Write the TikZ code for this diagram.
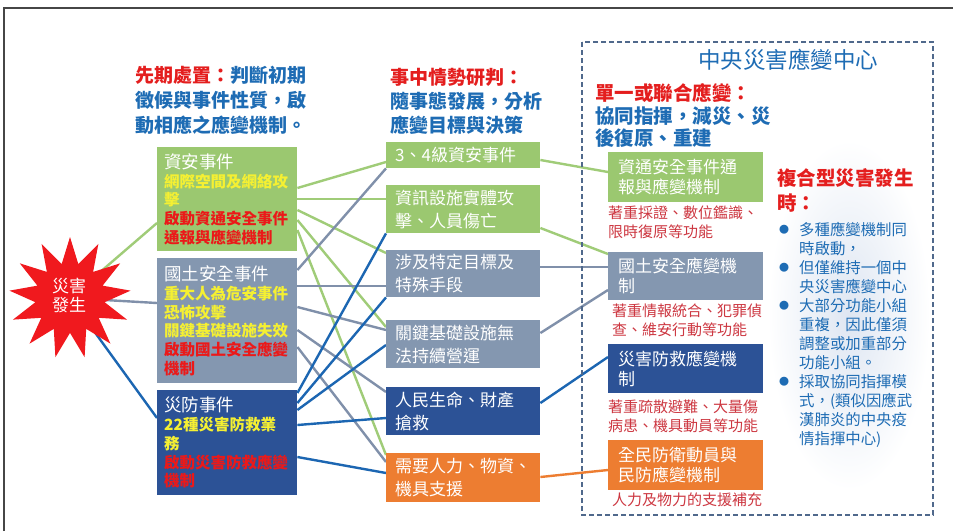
\documentclass[tikz,border=0pt]{standalone}
\usepackage{fontspec}
\setmainfont{Noto Sans CJK TC}
\usetikzlibrary{shapes.geometric,backgrounds}
\definecolor{gboxc}{RGB}{155,200,112}
\definecolor{grayc}{RGB}{132,151,176}
\definecolor{dbluec}{RGB}{44,82,150}
\definecolor{orangec}{RGB}{237,125,49}
\definecolor{glinec}{RGB}{160,204,120}
\definecolor{alinec}{RGB}{128,144,170}
\definecolor{blinec}{RGB}{28,102,178}
\definecolor{hblue}{RGB}{30,108,180}
\definecolor{hred}{RGB}{228,30,30}
\definecolor{yel}{RGB}{245,240,50}
\definecolor{lred}{RGB}{235,25,25}
\definecolor{notec}{RGB}{205,55,65}
\definecolor{starred}{RGB}{240,25,30}
\definecolor{dashc}{RGB}{80,105,140}
\definecolor{framec}{RGB}{70,70,70}
\definecolor{glowc}{RGB}{222,230,242}
\newcommand\ytext[1]{\textcolor{yel}{\bfseries #1}}
\newcommand\rtext[1]{\textcolor{lred}{\bfseries #1}}
\newcommand\ttext[1]{{\fontsize{17.5}{18.7}\selectfont #1}}
\begin{document}
\begin{tikzpicture}[x=1pt,y=-1pt,
  lbox/.style={anchor=north west, text width=126pt, inner xsep=7pt, inner ysep=0pt, align=left, text=white, font=\fontsize{15.5}{18.7}\selectfont},
  mbox/.style={anchor=north west, text width=136pt, inner xsep=9pt, inner ysep=0pt, align=left, text=white, font=\fontsize{17}{23}\selectfont},
  rbox/.style={anchor=north west, text width=135pt, inner xsep=10pt, inner ysep=0pt, align=left, text=white, font=\fontsize{17}{20}\selectfont},
  notetext/.style={anchor=west, inner sep=0pt, align=left, text=notec, font=\fontsize{15}{19}\selectfont},
  headtext/.style={anchor=west, inner sep=0pt, align=left, text=hblue, font=\bfseries\fontsize{19}{25}\selectfont},
  conn/.style={line width=2.4pt},
  gline/.style={conn, draw=glinec}, aline/.style={conn, draw=alinec},
  bline/.style={conn, draw=blinec}, oline/.style={conn, draw=orangec},
  bullet/.style={inner sep=0pt, text=hblue, font=\fontsize{10}{12}\selectfont}
]
\useasboundingbox (0,0) rectangle (953,531);
% frame
\draw[framec, line width=1.5pt] (4,531) -- (4,8) -- (953,8);
% dashed center box
\draw[dashc, line width=1.8pt, dash pattern=on 5pt off 3pt] (582,42) rectangle (933,515);
\node[text=hblue, font=\fontsize{22.5}{26}\selectfont] (title) at (788,60) {中央災害應變中心};

% headers
\node[headtext] (h1) at (135,100) {\textcolor{hred}{先期處置：}判斷初期\\徵候與事件性質，啟\\動相應之應變機制。};
\node[headtext, font=\bfseries\fontsize{19}{24}\selectfont] (h2) at (390,101) {\textcolor{hred}{事中情勢研判：}\\隨事態發展，分析\\應變目標與決策};
\node[headtext, font=\bfseries\fontsize{19.5}{22.5}\selectfont] (h3) at (595,116) {\textcolor{hred}{單一或聯合應變：}\\協同指揮，減災、災\\後復原、重建};

% star
\node[star, star points=13, star point ratio=1.75, minimum size=122pt, fill=starred, inner sep=0pt] (star) at (70,298) {};
\node[text=white, align=center, inner sep=0pt, font=\fontsize{17}{19}\selectfont] (startext) at (69,295) {災害\\發生};

% left boxes
\node[lbox, fill=gboxc, minimum height=104pt] (L1) at (157,147) {\ttext{資安事件}\\\ytext{網際空間及網絡攻}\\\ytext{擊}\\\rtext{啟動資通安全事件}\\\rtext{通報與應變機制}};
\node[lbox, fill=grayc, minimum height=125pt] (L2) at (157,258) {\ttext{國土安全事件}\\\ytext{重大人為危安事件}\\\ytext{恐怖攻擊}\\\ytext{關鍵基礎設施失效}\\\rtext{啟動國土安全應變}\\\rtext{機制}};
\node[lbox, fill=dbluec, minimum height=105pt] (L3) at (157,390) {\ttext{災防事件}\\\ytext{22種災害防救業}\\\ytext{務}\\\rtext{啟動災害防救應變}\\\rtext{機制}};

% middle boxes
\node[mbox, fill=gboxc, minimum height=26pt] (M1) at (386,142) {3、4級資安事件};
\node[mbox, fill=gboxc, minimum height=48pt] (M2) at (386,185) {資訊設施實體攻\\擊、人員傷亡};
\node[mbox, fill=grayc, minimum height=47pt] (M3) at (386,250) {涉及特定目標及\\特殊手段};
\node[mbox, fill=grayc, minimum height=48pt] (M4) at (386,320) {關鍵基礎設施無\\法持續營運};
\node[mbox, fill=dbluec, minimum height=48pt] (M5) at (386,387) {人民生命、財產\\搶救};
\node[mbox, fill=orangec, minimum height=49pt] (M6) at (386,453) {需要人力、物資、\\機具支援};

% right boxes
\node[rbox, fill=gboxc, minimum height=50pt] (R1) at (608,152) {資通安全事件通\\報與應變機制};
\node[rbox, fill=grayc, minimum height=48pt] (R2) at (608,252) {國土安全應變機\\制};
\node[rbox, fill=dbluec, minimum height=49pt] (R3) at (608,344) {災害防救應變機\\制};
\node[rbox, fill=orangec, minimum height=50pt] (R4) at (608,440) {全民防衛動員與\\民防應變機制};

% notes
\node[notetext] (N1) at (608,222) {著重採證、數位鑑識、\\限時復原等功能};
\node[notetext] (N2) at (612,320) {著重情報統合、犯罪偵\\查、維安行動等功能};
\node[notetext] (N3) at (608,416) {著重疏散避難、大量傷\\病患、機具動員等功能};
\node[notetext] (N4) at (612,500) {人力及物力的支援補充};

% far right
\node[headtext, text=hred, font=\bfseries\fontsize{19.5}{25}\selectfont] (F1) at (777,190.5) {複合型災害發生\\時：};
\node[anchor=west, inner sep=0pt, align=left, text=hblue, font=\fontsize{15.4}{19}\selectfont] (FB) at (799,334.5) {多種應變機制同\\時啟動，\\但僅維持一個中\\央災害應變中心\\大部分功能小組\\重複，因此僅須\\調整或加重部分\\功能小組。\\採取協同指揮模\\式，(類似因應武\\漢肺炎的中央疫\\情指揮中心)};
\node[bullet] (bu1) at (784,230) {●};
\node[bullet] (bu2) at (784,268) {●};
\node[bullet] (bu3) at (784,306) {●};
\node[bullet] (bu4) at (784,382) {●};

\begin{pgfonlayer}{background}
\fill[white] (0,0) rectangle (953,531);
\shade[inner color=glowc, outer color=white] (768,140) rectangle (930,490);
% star to left boxes
\draw[gline] (star.center) -- ([yshift=-76pt]L1.north west);
\draw[aline] (star.center) -- ([yshift=-45pt]L2.north west);
\draw[bline] (star.center) -- ([yshift=-28pt]L3.north west);
% green from L1
\draw[gline] ([yshift=-41pt]L1.north east) -- ([yshift=-20pt]M1.north west);
\draw[gline] ([yshift=-52pt]L1.north east) -- ([yshift=-14pt]M2.north west);
\draw[gline] ([yshift=-63pt]L1.north east) -- ([yshift=-3pt]M3.north west);
\draw[gline] ([yshift=-73pt]L1.north east) -- ([yshift=-7pt]M4.north west);
\draw[gline] ([yshift=-83pt]L1.north east) -- ([yshift=-2pt]M6.north west);
% gray from L2
\draw[aline] ([yshift=-12pt]L2.north east) -- (M1.south west);
\draw[aline] ([yshift=-28pt]L2.north east) -- ([yshift=-36pt]M3.north west);
\draw[aline] ([yshift=-49pt]L2.north east) -- ([yshift=-10pt]M4.north west);
\draw[aline] ([yshift=-72pt]L2.north east) -- ([yshift=-5pt]M5.north west);
\draw[aline] ([yshift=-89pt]L2.north east) -- ([yshift=-9pt]M6.north west);
% blue from L3
\draw[bline] ([yshift=-3pt]L3.north east) -- (M2.south west);
\draw[bline] ([yshift=-13pt]L3.north east) -- (M3.south west);
\draw[bline] ([yshift=-20pt]L3.north east) -- ([yshift=-25pt]M4.north west);
\draw[bline] ([yshift=-35pt]L3.north east) -- ([yshift=-31pt]M5.north west);
\draw[bline] ([yshift=-67pt]L3.north east) -- ([yshift=-20pt]M6.north west);
% middle to right
\draw[gline] ([yshift=-18pt]M1.north east) -- ([yshift=-20pt]R1.north west);
\draw[gline] ([yshift=-43pt]M2.north east) -- ([yshift=-2pt]R2.north west);
\draw[aline] ([yshift=-17pt]M3.north east) -- ([yshift=-15pt]R2.north west);
\draw[aline] ([yshift=-13pt]M4.north east) -- ([yshift=-38pt]R2.north west);
\draw[bline] ([yshift=-16pt]M5.north east) -- ([yshift=-13pt]R3.north west);
\draw[oline] ([yshift=-24pt]M6.north east) -- ([yshift=-30pt]R4.north west);
\end{pgfonlayer}
\end{tikzpicture}
\end{document}
